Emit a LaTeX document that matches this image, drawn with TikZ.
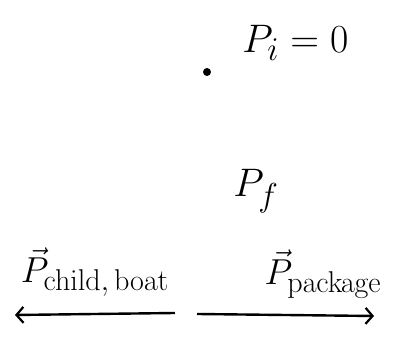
\documentclass[tikz,border=0pt]{standalone}
\usetikzlibrary{arrows.meta}
\tikzset{
  lbl/.style={inner sep=0pt, font=\Huge, scale=1.6, transform shape},
  blbl/.style={inner sep=0pt, font=\Huge, scale=1.45, transform shape},
  mom/.style={line width=2.4pt, -{Straight Barb[length=7pt,width=16pt,line width=2.2pt]}}
}
\begin{document}
\begin{tikzpicture}[x=1pt,y=1pt]
\useasboundingbox (0,0) rectangle (407,339);
% initial state
\fill (207,267) circle (4) coordinate (dot);
\node[lbl, anchor=west] (pi) at (242,296) {$P_i = 0$};
% final state
\node[lbl] (pf) at (256,148) {$P_f$};
\node[blbl] (pcb) at (95,67) {$\vec{P}_{\mathrm{child,\,boat}}$};
\node[blbl] (pp) at (323,65) {$\vec{P}_{\mathrm{package}}$};
\coordinate (ls) at (175,26);
\coordinate (le) at (15,24);
\coordinate (rs) at (197,25);
\coordinate (re) at (374,23);
\draw[mom] (ls) -- (le);
\draw[mom] (rs) -- (re);
\end{tikzpicture}
\end{document}
